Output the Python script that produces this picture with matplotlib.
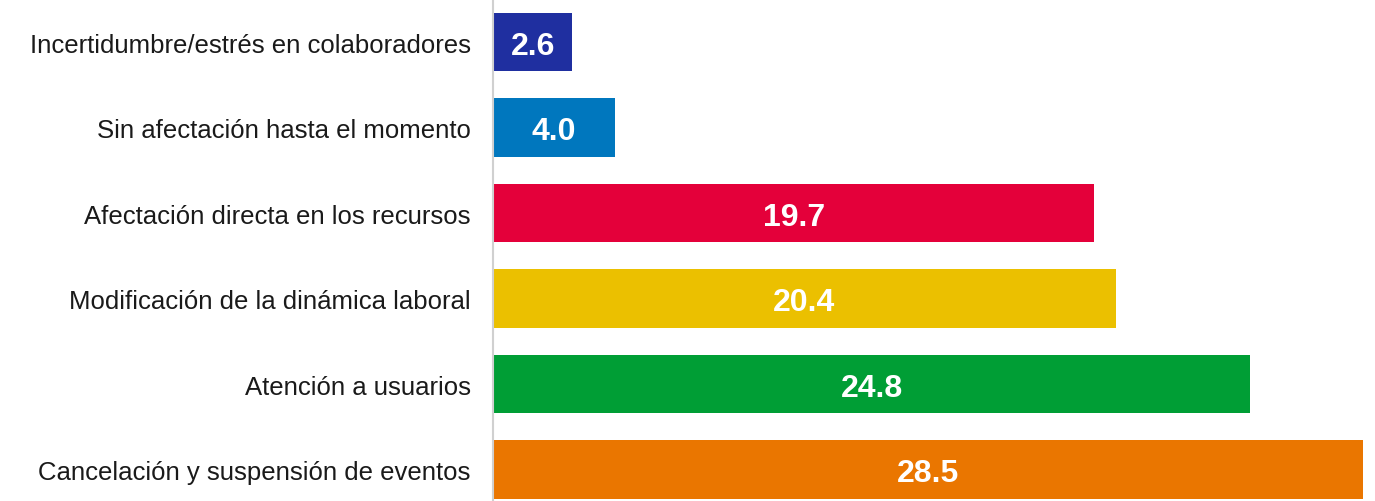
import matplotlib
matplotlib.use('Agg')
import matplotlib.pyplot as plt

categories = [
    'Cancelación y suspensión de eventos',
    'Atención a usuarios',
    'Modificación de la dinámica laboral',
    'Afectación directa en los recursos',
    'Sin afectación hasta el momento',
    'Incertidumbre/estrés en colaboradores',
]
values = [28.5, 24.8, 20.4, 19.7, 4.0, 2.6]
bar_colors = ['#EA7600', '#009E35', '#EBC000', '#E4003A', '#0077BE', '#1F2FA0']

plt.rcParams['font.family'] = ['Liberation Sans', 'DejaVu Sans']

fig = plt.figure(figsize=(13.75, 5.02), dpi=100, facecolor='white')
ax = fig.add_axes([493 / 1375, 0, (1363 - 493) / 1375, 500 / 502])

pos = range(len(categories))
bars = ax.barh(pos, values, height=0.68, color=bar_colors)

for b, v in zip(bars, values):
    ax.text(b.get_x() + b.get_width() / 2, b.get_y() + b.get_height() / 2,
            f'{v:.1f}', ha='center', va='center_baseline', color='white',
            fontsize=23, fontweight='bold')

ax.set_xlim(0, 28.5)
ax.set_ylim(-0.368, 5.48)
ax.set_yticks(list(pos))
ax.set_yticklabels(categories, fontsize=18.5, color='#1a1a1a')
ax.set_xticks([])
ax.tick_params(axis='y', length=0, pad=16)

for s in ['top', 'right', 'bottom']:
    ax.spines[s].set_visible(False)
ax.spines['left'].set_color('#d0d0d0')
ax.spines['left'].set_linewidth(1.5)

fig.savefig('out.png', dpi=100, facecolor='white')
